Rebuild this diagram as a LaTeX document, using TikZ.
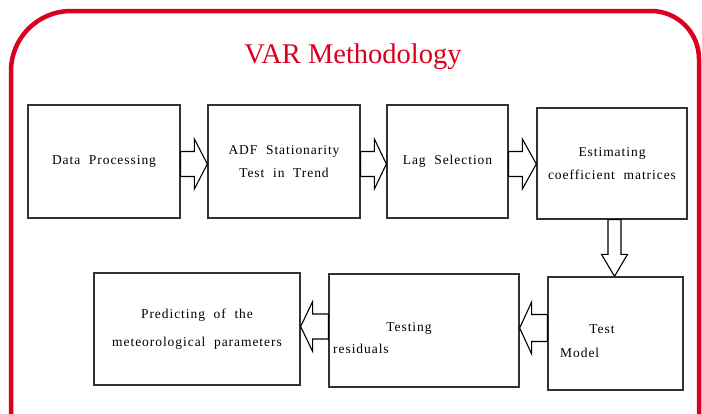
\documentclass[tikz,border=0pt]{standalone}
\usepackage{fontspec}
\setmainfont{Liberation Serif}
\newfontfamily\boxfont[LetterSpace=7,WordSpace=2]{Liberation Serif}
\usetikzlibrary{calc}
\definecolor{varred}{RGB}{218,0,30}
\definecolor{boxline}{RGB}{50,50,50}
\tikzset{
  stage/.style={draw=boxline, line width=1.3pt, fill=white, inner sep=0pt, align=center,
    font=\boxfont\fontsize{13.5}{23}\selectfont},
  lbl/.style={inner sep=0pt, font=\boxfont\fontsize{13.5}{23}\selectfont},
  barr/.style={draw=black, line width=1.1pt, fill=white, line join=miter},
  frame/.style={draw=varred, line width=4.5pt},
}
% #1 start, #2 tip, #3 head length, #4 shaft half width, #5 head half width
\newcommand\blockarr[5]{%
  \coordinate (bh) at ($(#2)!#3!(#1)$);
  \draw[barr] ($(#1)!#4!90:(#2)$) -- ($(bh)!#4!90:(#2)$) -- ($(bh)!#5!90:(#2)$) -- (#2)
    -- ($(bh)!#5!-90:(#2)$) -- ($(bh)!#4!-90:(#2)$) -- ($(#1)!#4!-90:(#2)$) -- cycle;}
\begin{document}
\begin{tikzpicture}[x=1pt,y=-1pt]
\useasboundingbox (0,0) rectangle (702,413);
\clip (0,0) rectangle (702,413);
\fill[white] (0,0) rectangle (702,413);
% frame
\draw[frame] (11,470) [rounded corners=60pt] -- (11,11) [rounded corners=48pt] -- (699,11) [sharp corners] -- (699,470);
\node[text=varred, font=\fontsize{28.5}{32}\selectfont] (title) at (353,56.5) {VAR Methodology};
% boxes, top row
\node[stage, minimum width=152pt, minimum height=113pt] (dp) at (104,161.5) {Data Processing};
\node[stage, minimum width=152pt, minimum height=113pt] (adf) at (284,161.5) {ADF Stationarity\\Test in Trend};
\node[stage, minimum width=121pt, minimum height=113pt] (lag) at (447.5,161.5) {Lag Selection};
\node[stage, minimum width=150pt, minimum height=111pt] (est) at (612,163.5) {Estimating\\coefficient matrices};
% bottom row
\node[stage, minimum width=206pt, minimum height=112pt] (pred) at (197,329) {Predicting of the\\[5pt]meteorological parameters};
\node[stage, minimum width=190pt, minimum height=113pt] (tres) at (424,330.5) {};
\node[stage, minimum width=135pt, minimum height=113pt] (tm) at (615.5,333.5) {};
\node[lbl] (t1) at (409,328) {Testing};
\node[lbl, anchor=west] (t2) at (333,349) {residuals};
\node[lbl] (m1) at (602,329) {Test};
\node[lbl, anchor=west] (m2) at (560,353) {Model};
% arrows
\coordinate (a1s) at ($(dp.east)+(0,2.5)$);
\coordinate (a1t) at (adf.west |- a1s);
\blockarr{a1s}{a1t}{13pt}{12.5pt}{25pt}
\coordinate (a2s) at ($(adf.east)+(0,2.5)$);
\coordinate (a2t) at (lag.west |- a2s);
\blockarr{a2s}{a2t}{12pt}{12.5pt}{25pt}
\coordinate (a3s) at ($(lag.east)+(0,2.5)$);
\coordinate (a3t) at (est.west |- a3s);
\blockarr{a3s}{a3t}{14pt}{12.5pt}{25pt}
\coordinate (a4s) at ($(est.south)+(2.5,0)$);
\coordinate (a4t) at (a4s |- tm.north);
\blockarr{a4s}{a4t}{22pt}{6.5pt}{13pt}
\coordinate (a5s) at ($(tm.west)+(0,-5.5)$);
\coordinate (a5t) at (tres.east |- a5s);
\blockarr{a5s}{a5t}{12pt}{13.5pt}{26pt}
\coordinate (a6s) at ($(tres.west)+(0,-4)$);
\coordinate (a6t) at (pred.east |- a6s);
\blockarr{a6s}{a6t}{12pt}{12.5pt}{25pt}
\end{tikzpicture}
\end{document}
